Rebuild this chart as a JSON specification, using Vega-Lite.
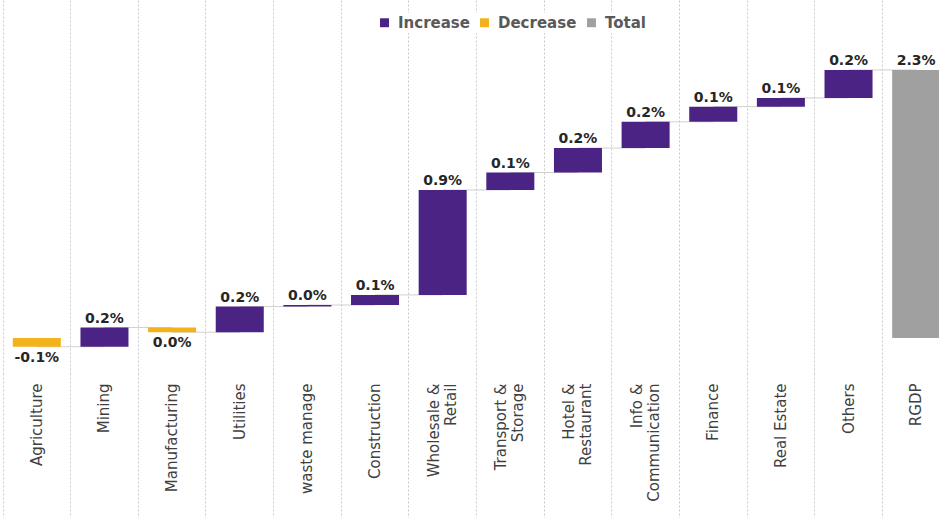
{
  "$schema": "https://vega.github.io/schema/vega-lite/v6.json",
  "width": 947,
  "height": 373,
  "autosize": "none",
  "padding": {"left": 3, "top": 0, "right": -11, "bottom": 145},
  "background": "white",
  "config": {"view": {"stroke": null}, "font": "DejaVu Sans"},
  "data": {
    "values": [
      {"sector": "Agriculture", "start": 0, "end": -0.075, "type": "Decrease", "label": "-0.1%", "next": "Mining"},
      {"sector": "Mining", "start": -0.075, "end": 0.09, "type": "Increase", "label": "0.2%", "next": "Manufacturing"},
      {"sector": "Manufacturing", "start": 0.09, "end": 0.05, "type": "Decrease", "label": "0.0%", "next": "Utilities"},
      {"sector": "Utilities", "start": 0.05, "end": 0.27, "type": "Increase", "label": "0.2%", "next": "waste manage"},
      {"sector": "waste manage", "start": 0.27, "end": 0.283, "type": "Increase", "label": "0.0%", "next": "Construction"},
      {"sector": "Construction", "start": 0.283, "end": 0.37, "type": "Increase", "label": "0.1%", "next": "Wholesale & Retail"},
      {"sector": "Wholesale & Retail", "start": 0.37, "end": 1.27, "type": "Increase", "label": "0.9%", "next": "Transport & Storage"},
      {"sector": "Transport & Storage", "start": 1.27, "end": 1.42, "type": "Increase", "label": "0.1%", "next": "Hotel & Restaurant"},
      {"sector": "Hotel & Restaurant", "start": 1.42, "end": 1.63, "type": "Increase", "label": "0.2%", "next": "Info & Communication"},
      {"sector": "Info & Communication", "start": 1.63, "end": 1.855, "type": "Increase", "label": "0.2%", "next": "Finance"},
      {"sector": "Finance", "start": 1.855, "end": 1.985, "type": "Increase", "label": "0.1%", "next": "Real Estate"},
      {"sector": "Real Estate", "start": 1.985, "end": 2.06, "type": "Increase", "label": "0.1%", "next": "Others"},
      {"sector": "Others", "start": 2.06, "end": 2.3, "type": "Increase", "label": "0.2%", "next": "RGDP"},
      {"sector": "RGDP", "start": 0, "end": 2.3, "type": "Total", "label": "2.3%", "next": null}
    ]
  },
  "encoding": {
    "x": {
      "field": "sector",
      "type": "nominal",
      "sort": null,
      "scale": {"paddingInner": 0, "paddingOuter": 0},
      "axis": {
        "title": null,
        "domain": false,
        "bandPosition": 0,
        "grid": true,
        "gridDash": [2, 2],
        "gridColor": "#c8c8c8",
        "ticks": true,
        "tickSize": 145,
        "tickDash": [2, 2],
        "tickColor": "#c8c8c8",
        "labelAngle": -90,
        "labelAlign": "right",
        "labelBaseline": "middle",
        "labelPadding": -135,
        "labelFontSize": 15,
        "labelColor": "#404040",
        "labelLineHeight": 17,
        "labelOffset": {"condition": {"test": "indexof(datum.value, '&') >= 0", "value": -9}, "value": 0},
        "labelExpr": "split(replace(datum.value, ' & ', ' &|'), '|')"
      }
    }
  },
  "layer": [
    {
      "transform": [{"filter": "isValid(datum.next)"}],
      "mark": {"type": "rule", "color": "#d0d0d0", "strokeWidth": 1},
      "encoding": {
        "x2": {"field": "next"},
        "y": {"field": "end", "type": "quantitative", "scale": {"domain": [-0.3, 2.9], "nice": false, "zero": false}, "axis": null}
      }
    },
    {
      "mark": {"type": "bar", "width": {"band": 0.71}},
      "encoding": {
        "y": {"field": "start", "type": "quantitative", "scale": {"domain": [-0.3, 2.9], "nice": false, "zero": false}, "axis": null},
        "y2": {"field": "end"},
        "color": {
          "field": "type",
          "type": "nominal",
          "scale": {"domain": ["Increase", "Decrease", "Total"], "range": ["#4b2385", "#f3b11b", "#a0a0a0"]},
          "legend": {
            "title": null,
            "orient": "none",
            "direction": "horizontal",
            "legendX": 372,
            "legendY": 13,
            "symbolType": "square",
            "symbolSize": 80,
            "symbolStrokeWidth": 0,
            "labelFontSize": 15,
            "labelFontWeight": "bold",
            "labelColor": "#595959",
            "labelOffset": 6,
            "columnPadding": 7,
            "fillColor": "white",
            "padding": 2
          }
        }
      }
    },
    {
      "transform": [{"filter": "datum.type != 'Decrease'"}],
      "mark": {"type": "text", "baseline": "bottom", "dy": -2, "fontSize": 14, "fontWeight": "bold", "color": "#262626"},
      "encoding": {
        "y": {"field": "end", "type": "quantitative", "scale": {"domain": [-0.3, 2.9], "nice": false, "zero": false}, "axis": null},
        "text": {"field": "label"}
      }
    },
    {
      "transform": [{"filter": "datum.type == 'Decrease'"}],
      "mark": {"type": "text", "baseline": "top", "dy": 4, "fontSize": 14, "fontWeight": "bold", "color": "#262626"},
      "encoding": {
        "y": {"field": "end", "type": "quantitative", "scale": {"domain": [-0.3, 2.9], "nice": false, "zero": false}, "axis": null},
        "text": {"field": "label"}
      }
    }
  ]
}
